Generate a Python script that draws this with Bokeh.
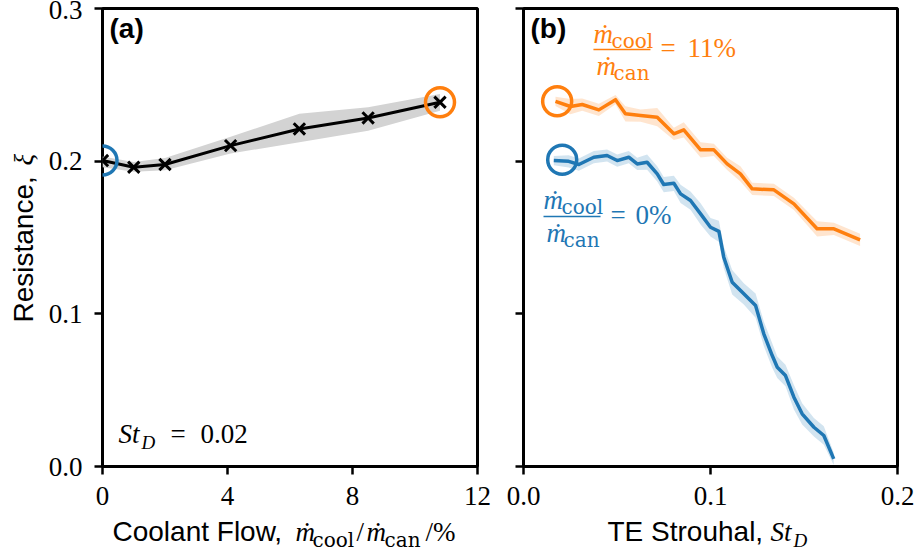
import math
from bokeh.plotting import figure
from bokeh.layouts import row, column
from bokeh.models import Label, FixedTicker, PrintfTickFormatter, CustomJSTickFormatter, Range1d
from bokeh.embed import file_html
from bokeh.resources import INLINE

# ---------------- data: panel (a) ----------------
coolant_pct = [0.0, 1.0, 2.0, 4.1, 6.3, 8.5, 10.8]
xi_a = [0.2004, 0.1960, 0.1978, 0.2102, 0.2211, 0.2283, 0.2386]
xi_a_lo = [0.1960, 0.1930, 0.1940, 0.2050, 0.2124, 0.2200, 0.2331]
xi_a_hi = [0.2030, 0.1995, 0.2020, 0.2160, 0.2310, 0.2353, 0.2440]
a_ticks = [0, 4, 8, 12]
y_ticks = [0.0, 0.1, 0.2, 0.3]

# ---------------- data: panel (b) ----------------
st_orange = [0.0171, 0.0251, 0.0314, 0.0403, 0.0492, 0.0545, 0.0626, 0.0715, 0.0804, 0.0857,
             0.0947, 0.1018, 0.1089, 0.1160, 0.1223, 0.1339, 0.1446, 0.1570, 0.1660, 0.1800]
xi_orange = [0.2392, 0.2358, 0.2371, 0.2336, 0.2403, 0.2310, 0.2299, 0.2288, 0.2179, 0.2205,
             0.2074, 0.2074, 0.1982, 0.1917, 0.1819, 0.1812, 0.1720, 0.1557, 0.1557, 0.1485]
err_orange = [0.003, 0.005, 0.004, 0.004, 0.003, 0.005, 0.004, 0.006, 0.004, 0.005,
              0.005, 0.004, 0.004, 0.005, 0.004, 0.004, 0.004, 0.005, 0.004, 0.004]

st_blue = [0.0162, 0.0242, 0.0296, 0.0376, 0.0447, 0.0501, 0.0563, 0.0608, 0.0661, 0.0715,
           0.0750, 0.0804, 0.0840, 0.0893, 0.0947, 0.1000, 0.1045, 0.1071, 0.1116, 0.1178,
           0.1241, 0.1285, 0.1330, 0.1357, 0.1401, 0.1446, 0.1490, 0.1553, 0.1606, 0.1659]
xi_blue = [0.2004, 0.1999, 0.1978, 0.2026, 0.2037, 0.2004, 0.2026, 0.1982, 0.1993, 0.1917,
           0.1847, 0.1855, 0.1786, 0.1742, 0.1655, 0.1567, 0.1540, 0.1371, 0.1207, 0.1131,
           0.1054, 0.0869, 0.0727, 0.0650, 0.0596, 0.0454, 0.0345, 0.0257, 0.0203, 0.0050]
err_blue = [0.003, 0.004, 0.004, 0.004, 0.004, 0.004, 0.004, 0.004, 0.005, 0.005,
            0.005, 0.005, 0.006, 0.006, 0.007, 0.006, 0.007, 0.007, 0.008, 0.007,
            0.008, 0.008, 0.008, 0.007, 0.007, 0.008, 0.007, 0.006, 0.006, 0.004]
b_ticks = [0.0, 0.1, 0.2]

# marker circles (reference operating points)
circ_a_x = [0.0, 10.8]
circ_a_y = [0.2004, 0.2386]
circ_b_x = [0.0207, 0.0180]
circ_b_y = [0.2009, 0.2392]
circ_colors = ["#1f77b4", "#ff7f0e"]

BLUE = "#1f77b4"
ORANGE = "#ff7f0e"
SERIF = "Liberation Serif"
SUBF = "DejaVu Serif"
SANS = "Liberation Sans"
FS = 27      # math / tick text
LS = 28      # sans axis labels
SUB = 20

W, H = 919, 555
MAIN_H = 517          # height of the row holding the two panels
FT, FB = 8, 466       # frame top / bottom (canvas px)
STRIP_W = 40          # strip holding the y label
SPLIT = 500           # canvas x where panel (b)'s figure starts


def make_fig(width, left, right, xr, xticks):
    p = figure(width=width, height=MAIN_H, x_range=xr, y_range=(0, 0.3),
               output_backend="svg", toolbar_location=None,
               min_border_left=left, min_border_right=right,
               min_border_top=FT, min_border_bottom=MAIN_H - FB)
    p.grid.visible = False
    p.background_fill_color = "white"
    p.border_fill_color = "white"
    p.outline_line_color = "black"
    p.outline_line_width = 3
    p.outline_line_alpha = 1
    for ax in (p.xaxis[0], p.yaxis[0]):
        ax.axis_line_color = None
        ax.major_tick_in = 0
        ax.major_tick_out = 8
        ax.major_tick_line_width = 2.5
        ax.minor_tick_line_color = None
        ax.major_label_text_font = SERIF
        ax.major_label_text_font_size = f"{FS}px"
        ax.major_label_text_color = "black"
        ax.axis_label = None
    p.xaxis[0].ticker = FixedTicker(ticks=xticks)
    p.yaxis[0].ticker = FixedTicker(ticks=y_ticks)
    p.yaxis[0].formatter = PrintfTickFormatter(format="%.1f")
    p.xaxis[0].major_label_standoff = 12
    p.yaxis[0].major_label_standoff = 12
    return p


def strip(width, height):
    s = figure(width=width, height=height, x_range=Range1d(0, 1), y_range=Range1d(0, 1),
               output_backend="svg", toolbar_location=None,
               x_axis_type=None, y_axis_type=None,
               min_border_left=0, min_border_right=0, min_border_top=0, min_border_bottom=0)
    s.grid.visible = False
    s.outline_line_color = None
    s.background_fill_color = "white"
    s.border_fill_color = "white"
    return s


def put(p, fl, fb, px, py, text, size=FS, font=SERIF, style="normal", color="black", angle=0.0):
    # (px, py): left end of the text baseline in canvas pixels
    off = 0.34 * size  # renderer draws the baseline this much lower than asked
    if angle:
        px = px - off
    else:
        py = py - off
    p.add_layout(Label(x=px - fl, y=fb - py, x_units="screen", y_units="screen",
                       text=text, text_font=font, text_font_size=f"{size}px",
                       text_font_style=style, text_color=color,
                       text_baseline="alphabetic", text_align="left", angle=angle))


# ---------------- panel (a) ----------------
pa = make_fig(SPLIT - STRIP_W, 102 - STRIP_W, 23, (0, 12), a_ticks)
pa.xaxis[0].formatter = PrintfTickFormatter(format="%d")
pa.varea(x=coolant_pct, y1=xi_a_lo, y2=xi_a_hi, fill_color="#d3d3d3", fill_alpha=1)
pa.line(coolant_pct, xi_a, line_color="black", line_width=3, line_join="round")
pa.scatter(coolant_pct, xi_a, marker="x", size=16, line_color="black", line_width=3)
pa.scatter(circ_a_x, circ_a_y, marker="circle", size=29, fill_color=None,
           line_color=circ_colors, line_width=3.5)

FLa = 102
put(pa, FLa, FB, 109, 38, "(a)", size=28, font=SANS, style="bold")
put(pa, FLa, FB, 118, 443, "St", style="italic")
put(pa, FLa, FB, 141, 448, "D", size=19, style="italic")
put(pa, FLa, FB, 170, 443, "=")
put(pa, FLa, FB, 200, 443, "0.02")

# ---------------- panel (b) ----------------
pb = make_fig(W - SPLIT, 23, 22, (0, 0.2), b_ticks)
pb.xaxis[0].formatter = PrintfTickFormatter(format="%.1f")
pb.yaxis[0].formatter = CustomJSTickFormatter(code="return ''")
pb.yaxis[0].major_label_standoff = 0

lo_o = [v - e for v, e in zip(xi_orange, err_orange)]
hi_o = [v + e for v, e in zip(xi_orange, err_orange)]
lo_b = [v - e for v, e in zip(xi_blue, err_blue)]
hi_b = [v + e for v, e in zip(xi_blue, err_blue)]
pb.varea(x=st_orange, y1=lo_o, y2=hi_o, fill_color=ORANGE, fill_alpha=0.2)
pb.varea(x=st_blue, y1=lo_b, y2=hi_b, fill_color=BLUE, fill_alpha=0.2)
pb.line(st_orange, xi_orange, line_color=ORANGE, line_width=3.5, line_join="round")
pb.line(st_blue, xi_blue, line_color=BLUE, line_width=3.5, line_join="round")
pb.scatter(circ_b_x, circ_b_y, marker="circle", size=29, fill_color=None,
           line_color=circ_colors, line_width=3.5)

FLb = 523
put(pb, FLb, FB, 530, 38, "(b)", size=28, font=SANS, style="bold")
# orange annotation: m_cool / m_can = 11%
put(pb, FLb, FB, 593, 43, "ṁ", style="italic", color=ORANGE)
put(pb, FLb, FB, 611, 47, "cool", size=SUB, font=SUBF, color=ORANGE)
pb.segment(x0=[0.0374], y0=[0.2731], x1=[0.0679], y1=[0.2731], line_color=ORANGE, line_width=1.5)
put(pb, FLb, FB, 596, 75, "ṁ", style="italic", color=ORANGE)
put(pb, FLb, FB, 613, 79, "can", size=SUB, font=SUBF, color=ORANGE)
put(pb, FLb, FB, 660, 57, "=", color=ORANGE)
put(pb, FLb, FB, 687, 57, "11%", color=ORANGE)
# blue annotation: m_cool / m_can = 0%
put(pb, FLb, FB, 543, 209, "ṁ", style="italic", color=BLUE)
put(pb, FLb, FB, 561, 213, "cool", size=SUB, font=SUBF, color=BLUE)
pb.segment(x0=[0.0107], y0=[0.1637], x1=[0.0412], y1=[0.1637], line_color=BLUE, line_width=1.5)
put(pb, FLb, FB, 546, 242, "ṁ", style="italic", color=BLUE)
put(pb, FLb, FB, 563, 246, "can", size=SUB, font=SUBF, color=BLUE)
put(pb, FLb, FB, 610, 224, "=", color=BLUE)
put(pb, FLb, FB, 635, 224, "0%", color=BLUE)

# ---------------- y-label strip (left); its frame is aligned with the panels' frames ----
ys = strip(STRIP_W, MAIN_H)
put(ys, 0, FB, 33, 322, "Resistance,", size=LS, font=SANS, angle=math.pi / 2)
put(ys, 0, FB, 33, 165, "ξ", style="italic", angle=math.pi / 2)

# ---------------- x-label strip (bottom) ----------------
xs = strip(W, H - MAIN_H)
put(xs, 0, H, 112, 541, "Coolant Flow,", size=LS, font=SANS)
put(xs, 0, H, 295, 541, "ṁ", style="italic")
put(xs, 0, H, 312, 546, "cool", size=SUB, font=SUBF)
put(xs, 0, H, 356, 541, "/")
put(xs, 0, H, 366, 541, "ṁ", style="italic")
put(xs, 0, H, 384, 546, "can", size=SUB, font=SUBF)
put(xs, 0, H, 425, 541, "/%")
put(xs, 0, H, 607, 541, "TE Strouhal,", size=LS, font=SANS)
put(xs, 0, H, 770, 541, "St", style="italic")
put(xs, 0, H, 793, 546, "D", size=19, style="italic")

layout = column(row(ys, pa, pb, spacing=0), xs, spacing=0)
open("out.html", "w").write(file_html(layout, INLINE))
